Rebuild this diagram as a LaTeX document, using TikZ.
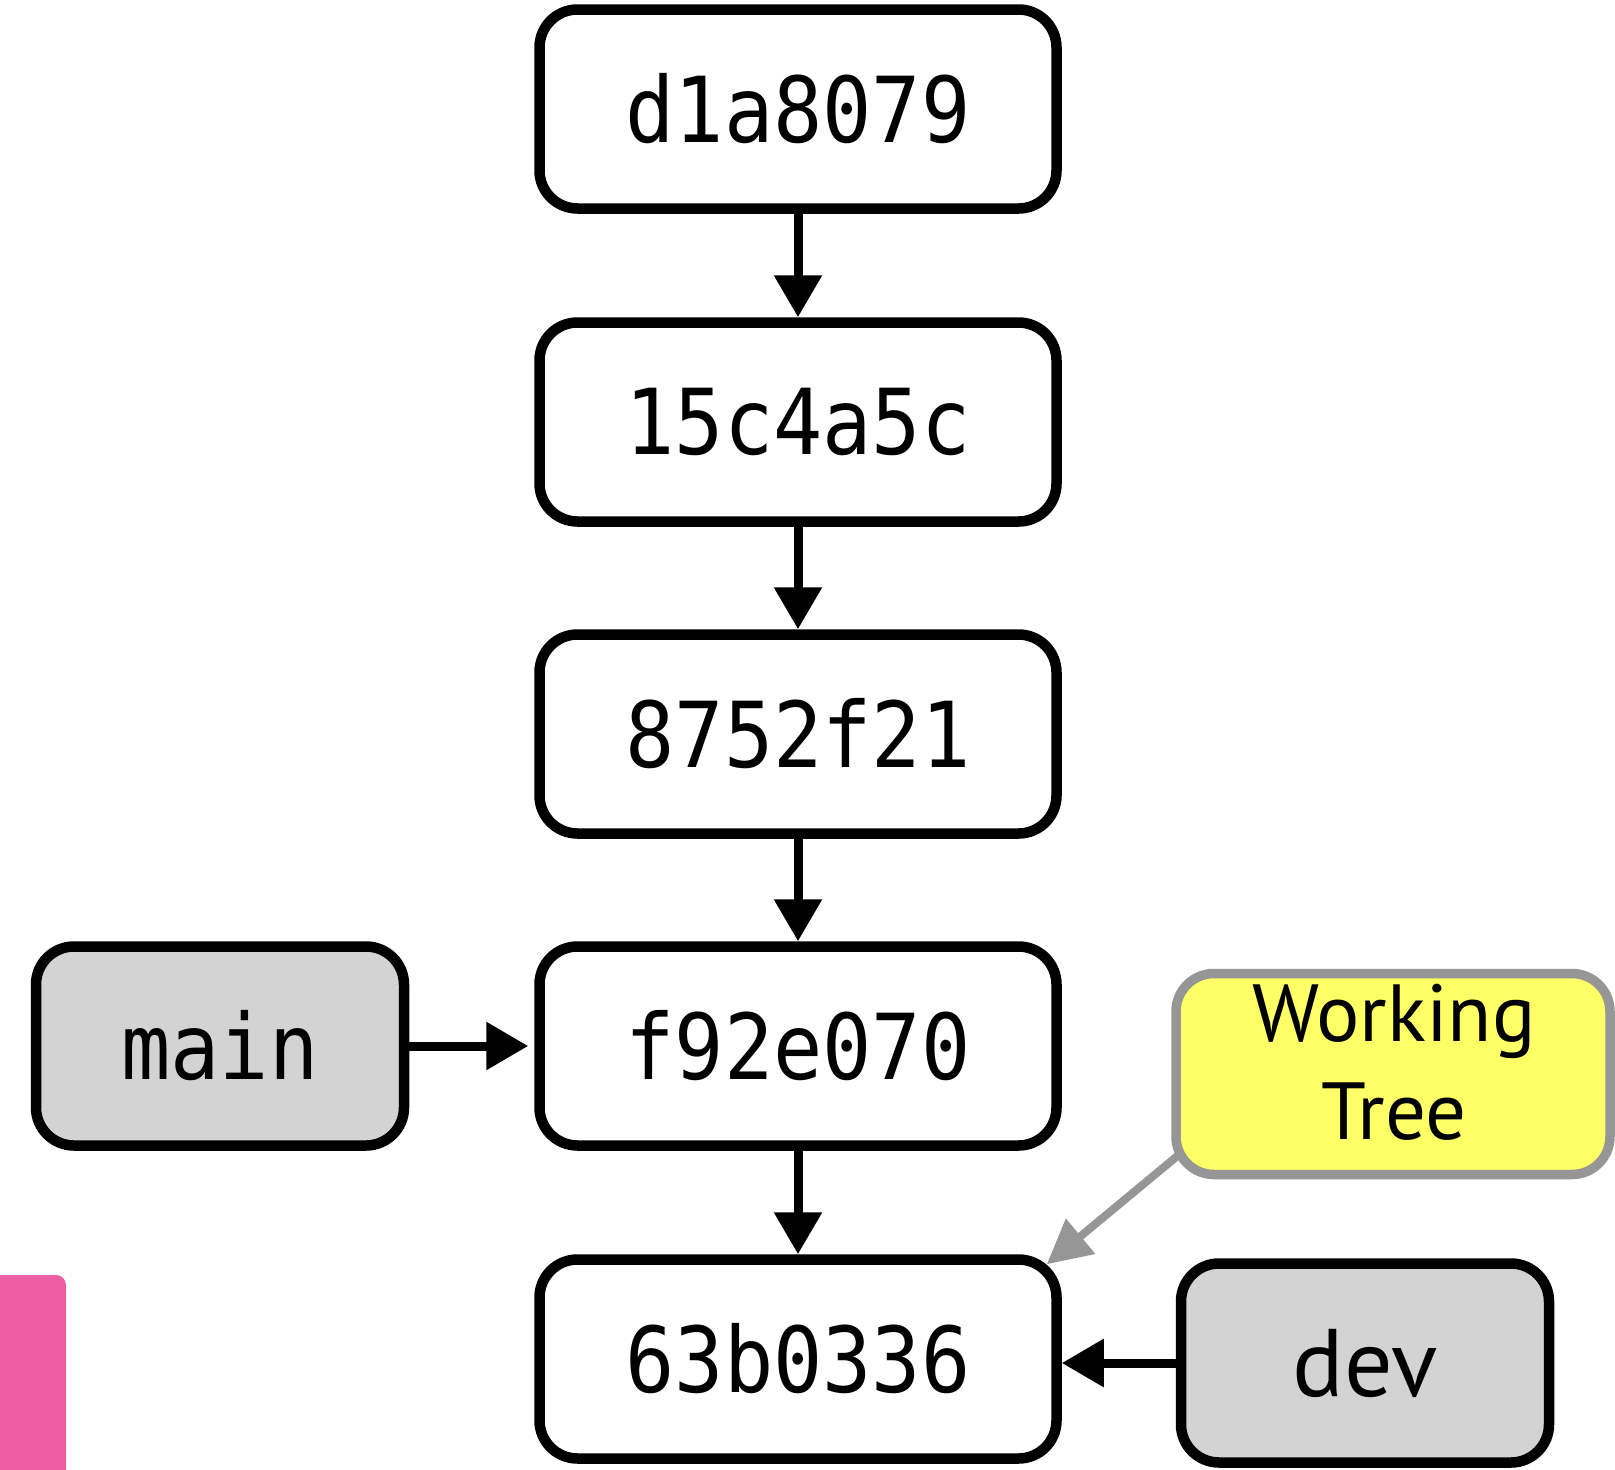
\documentclass[tikz,border=0pt]{standalone}
\usepackage{fontspec}
\usetikzlibrary{arrows.meta,calc}
\newfontfamily\hashfont[FakeStretch=0.9]{DejaVu Sans Mono}
\newfontfamily\labelfont{PT Sans}
\definecolor{pinkc}{RGB}{238,94,164}
\definecolor{refgray}{RGB}{211,211,211}
\definecolor{wtyellow}{RGB}{255,255,102}
\definecolor{wtstroke}{RGB}{150,150,150}
\tikzset{
  commit/.style={draw=black, line width=10.5pt, rounded corners=38pt, fill=white,
    minimum width=517pt, minimum height=199pt, inner sep=0pt,
    font=\hashfont\fontsize{91}{91}\selectfont},
  branch/.style={draw=black, line width=10.5pt, rounded corners=38pt, fill=refgray,
    minimum width=368pt, minimum height=199pt, inner sep=0pt},
  wtbox/.style={draw=wtstroke, line width=9.5pt, rounded corners=38pt, fill=wtyellow,
    minimum width=434pt, minimum height=201pt, inner sep=0pt},
  arr/.style={draw=black, line width=9pt, -{Triangle[length=42pt,width=46pt]}},
  grayarr/.style={draw=wtstroke, line width=8pt, -{Triangle[length=44pt,width=44pt]}},
}
\begin{document}
\begin{tikzpicture}[x=1pt,y=-1pt]
\useasboundingbox (0,0) rectangle (1615,1470);
\fill[white] (0,0) rectangle (1615,1470);
% pink bar at bottom left
\fill[pinkc] (0,1470) -- (0,1275) -- (56,1275) arc[start angle=-90,end angle=0,radius=10] -- (66,1470) -- cycle;

\node[commit] (c1) at (798,109) {d1a8079};
\node[commit] (c2) at (798,422) {15c4a5c};
\node[commit] (c3) at (798,734) {8752f21};
\node[commit] (c4) at (798,1046) {f92e070};
\node[commit] (c5) at (798,1359) {63b0336};

\node[branch, font=\hashfont\fontsize{91}{91}\selectfont] (main) at (220,1046) {main};
\node[branch, font=\labelfont\fontsize{96}{96}\selectfont] (dev) at (1365,1363) {dev};
\node[wtbox] (wt) at (1393,1074) {};
\node[align=center, inner sep=0pt, font=\labelfont\fontsize{81}{98}\selectfont] (wtlabel) at (1394,1062) {Working\\Tree};

\draw[arr] (c1) -- (c2);
\draw[arr] (c2) -- (c3);
\draw[arr] (c3) -- (c4);
\draw[arr] (c4) -- (c5);
\draw[arr, shorten >=6pt] (main) -- (c4);
\draw[arr] (dev.west) -- (c5.east |- dev.west);

\coordinate (wtfrom) at ($(wt.south west)+(7,-24)$);
\coordinate (wtto) at ($(c5.north east)+(-15,10)$);
\draw[grayarr] (wtfrom) -- (wtto);
\end{tikzpicture}
\end{document}
